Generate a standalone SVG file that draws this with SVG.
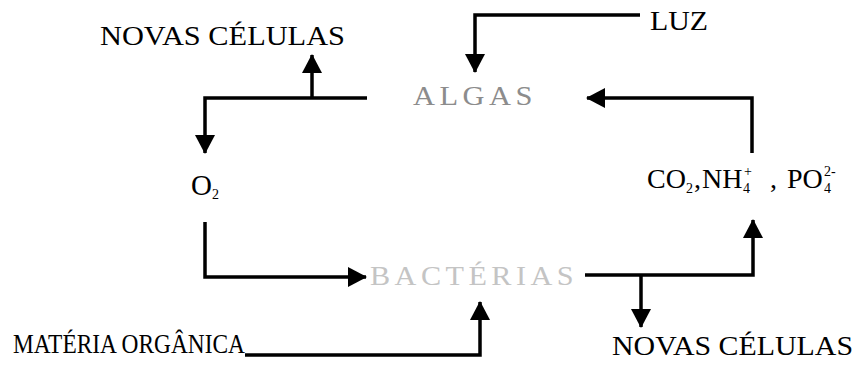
<svg xmlns="http://www.w3.org/2000/svg" width="857" height="370" viewBox="0 0 857 370">
<style>
.t{font-family:"Liberation Serif","Times New Roman",serif;font-size:27px;fill:#000}
.s{font-size:14px}
.c{fill:none;stroke:#000;stroke-width:3.5;marker-end:url(#ah)}
</style>
<defs>
<marker id="ah" markerUnits="userSpaceOnUse" markerWidth="20" markerHeight="22" refX="18" refY="10" orient="auto">
<path d="M0,0 L19,10 L0,20 z" fill="#000"/>
</marker>
</defs>
<rect width="857" height="370" fill="#fff"/>
<g id="connectors">
<path class="c" d="M367,98 H205 V153"/>
<path class="c" d="M312,98 V55"/>
<path class="c" d="M640,15 H475 V72"/>
<path class="c" d="M752,153 V98 H587"/>
<path class="c" d="M205,222 V277 H366"/>
<path class="c" d="M245,355 H480 V302"/>
<path class="c" d="M585,275 H753 V220"/>
<path class="c" d="M641,275 V327"/>
</g>
<g id="novas-celulas-top"><text class="t" x="100" y="45" textLength="245" lengthAdjust="spacingAndGlyphs">NOVAS CÉLULAS</text></g>
<g id="luz"><text class="t" x="650" y="30" textLength="58" lengthAdjust="spacingAndGlyphs">LUZ</text></g>
<g id="algas"><text class="t" x="413" y="105" textLength="124" lengthAdjust="spacingAndGlyphs" style="letter-spacing:4px;fill:#8c8c8c">ALGAS</text></g>
<g id="o2"><text class="t" x="191" y="195" style="font-size:29px">O<tspan class="s" dy="4">2</tspan></text></g>
<g id="nutrientes"><text class="t" x="647" y="188" style="font-size:28px">CO<tspan class="s" x="686" dy="5">2</tspan><tspan dy="-5" x="694">,</tspan><tspan x="702">NH</tspan><tspan class="s" x="743" dy="5">4</tspan><tspan class="s" x="744" dy="-17">+</tspan><tspan x="770" dy="12">,</tspan><tspan x="787">PO</tspan><tspan class="s" x="824" dy="5">4</tspan><tspan class="s" x="824" dy="-17">2-</tspan></text></g>
<g id="bacterias"><text class="t" x="370" y="285" textLength="208" lengthAdjust="spacingAndGlyphs" style="letter-spacing:4px;fill:#c4c4c4">BACTÉRIAS</text></g>
<g id="materia-organica"><text class="t" x="13" y="353" textLength="232" lengthAdjust="spacingAndGlyphs">MATÉRIA ORGÂNICA</text></g>
<g id="novas-celulas-bottom"><text class="t" x="612" y="355" textLength="241" lengthAdjust="spacingAndGlyphs">NOVAS CÉLULAS</text></g>
</svg>
